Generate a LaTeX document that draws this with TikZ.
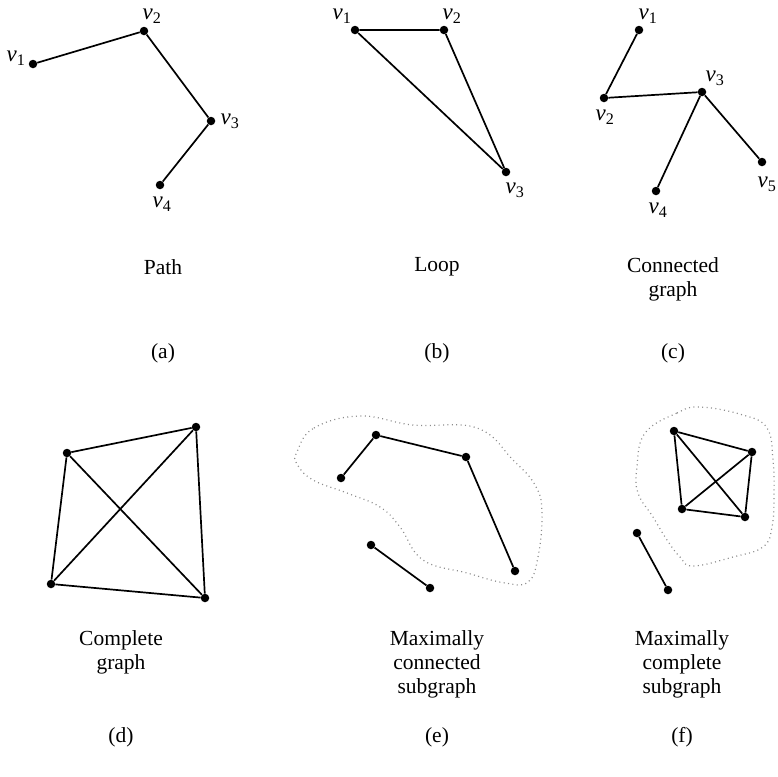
\documentclass[tikz,border=0pt]{standalone}
\usepackage{fontspec}
\setmainfont{Liberation Serif}
\usepackage{tikz}
\newcommand{\vtx}[1]{\textit{v}\textsubscript{#1}}
\begin{document}
\begin{tikzpicture}[
  x=1pt,y=-1pt,
  font=\fontsize{21.5}{24}\selectfont,
  dot/.style={circle,fill=black,inner sep=0pt,minimum size=8.5pt},
  vlbl/.style={inner sep=0pt,font=\fontsize{23}{24}\selectfont},
  captxt/.style={align=center,inner sep=0pt},
  ln/.style={line width=1.7pt},
  blob/.style={gray!90,line width=1.2pt,dash pattern=on 1pt off 3.4pt}
]
\useasboundingbox (0,0) rectangle (777,777);

% (a) path
\node[dot] (a1) at (33,64)   {};
\node[dot] (a2) at (144,31)  {};
\node[dot] (a3) at (211,121) {};
\node[dot] (a4) at (160,185) {};
\draw[ln] (a1) -- (a2) -- (a3) -- (a4);
\node[vlbl] (la1) at (16,58)   {\vtx{1}};
\node[vlbl] (la2) at (152,16)  {\vtx{2}};
\node[vlbl] (la3) at (230,121) {\vtx{3}};
\node[vlbl] (la4) at (162,204) {\vtx{4}};
\node[captxt] (ta) at (163,267) {Path};
\node[captxt] (pa) at (163,353) {(a)};

% (b) loop
\node[dot] (b1) at (355,30)  {};
\node[dot] (b2) at (444,30)  {};
\node[dot] (b3) at (506,172) {};
\draw[ln] (b1) -- (b2) -- (b3) -- (b1);
\node[vlbl] (lb1) at (342,16)  {\vtx{1}};
\node[vlbl] (lb2) at (452,16)  {\vtx{2}};
\node[vlbl] (lb3) at (515,190) {\vtx{3}};
\node[captxt] (tb) at (437,267) {Loop};
\node[captxt] (pb) at (437,353) {(b)};

% (c) connected graph
\node[dot] (c1) at (639,30)  {};
\node[dot] (c2) at (604,98)  {};
\node[dot] (c3) at (702,92)  {};
\node[dot] (c4) at (656,191) {};
\node[dot] (c5) at (762,162) {};
\draw[ln] (c1) -- (c2) -- (c3) -- (c4);
\draw[ln] (c3) -- (c5);
\node[vlbl] (lc1) at (648,16)  {\vtx{1}};
\node[vlbl] (lc2) at (605,117) {\vtx{2}};
\node[vlbl] (lc3) at (715,78)  {\vtx{3}};
\node[vlbl] (lc4) at (658,210) {\vtx{4}};
\node[vlbl] (lc5) at (767,184) {\vtx{5}};
\node[captxt] (tc) at (673,279) {Connected\\graph};
\node[captxt] (pc) at (673,353) {(c)};

% (d) complete graph
\node[dot] (d1) at (67,453)  {};
\node[dot] (d2) at (196,427) {};
\node[dot] (d3) at (51,584)  {};
\node[dot] (d4) at (205,598) {};
\draw[ln] (d1) -- (d2) -- (d4) -- (d3) -- (d1);
\draw[ln] (d1) -- (d4);
\draw[ln] (d2) -- (d3);
\node[captxt] (td) at (121,652) {Complete\\graph};
\node[captxt] (pd) at (121,737) {(d)};

% (e) maximally connected subgraph
\draw[blob] plot[smooth cycle,tension=0.7] coordinates {
  (297,452) (314,428) (360,416) (413,425) (477,428) (513,460)
  (535,485) (542,512) (538,557) (528,582) (505,583) (467,573)
  (423,560) (400,527) (380,507) (347,493) (313,480) (297,464)};
\node[dot] (e1) at (341,478) {};
\node[dot] (e2) at (376,435) {};
\node[dot] (e3) at (466,457) {};
\node[dot] (e4) at (515,571) {};
\node[dot] (e5) at (371,545) {};
\node[dot] (e6) at (430,588) {};
\draw[ln] (e1) -- (e2) -- (e3) -- (e4);
\draw[ln] (e5) -- (e6);
\node[captxt] (te) at (437,664) {Maximally\\connected\\subgraph};
\node[captxt] (pe) at (437,737) {(e)};

% (f) maximally complete subgraph
\draw[blob] plot[smooth cycle,tension=0.7] coordinates {
  (645,433) (677,413) (700,407) (743,415) (767,428) (773,460)
  (774,495) (772,527) (763,547) (733,557) (693,566) (680,557)
  (667,540) (653,517) (638,493) (637,467)};
\node[dot] (f1) at (674,431) {};
\node[dot] (f2) at (752,452) {};
\node[dot] (f3) at (682,509) {};
\node[dot] (f4) at (745,517) {};
\node[dot] (f5) at (637,533) {};
\node[dot] (f6) at (668,590) {};
\draw[ln] (f1) -- (f2) -- (f4) -- (f3) -- (f1);
\draw[ln] (f1) -- (f4);
\draw[ln] (f2) -- (f3);
\draw[ln] (f5) -- (f6);
\node[captxt] (tf) at (682,664) {Maximally\\complete\\subgraph};
\node[captxt] (pf) at (682,737) {(f)};
\end{tikzpicture}
\end{document}
